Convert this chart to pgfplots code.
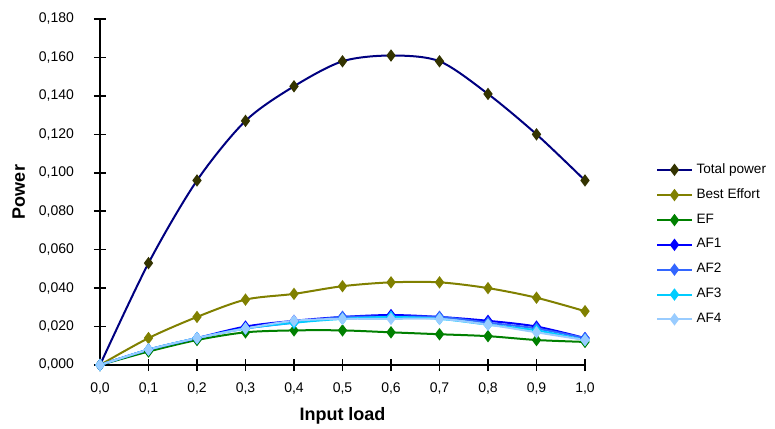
\documentclass[border=0pt]{standalone}
\usepackage{pgfplots}
\pgfplotsset{compat=1.18}
\usepackage{fontspec}
\setmainfont{Liberation Sans}
\definecolor{cTot}{RGB}{0,0,128}
\definecolor{cTotM}{RGB}{51,51,0}
\definecolor{cBE}{RGB}{128,128,0}
\definecolor{cEF}{RGB}{0,128,0}
\definecolor{cAFa}{RGB}{0,0,255}
\definecolor{cAFb}{RGB}{51,102,255}
\definecolor{cAFc}{RGB}{0,204,255}
\definecolor{cAFd}{RGB}{153,204,255}
\begin{document}
\begin{tikzpicture}
\useasboundingbox (0,0) rectangle (387.5pt,214pt);
\begin{axis}[
  at={(50pt,31.5pt)}, anchor=south west,
  scale only axis, width=242.5pt, height=173pt,
  xmin=0, xmax=1, ymin=0, ymax=0.18,
  axis lines*=left, axis line style={line width=0.8pt, -},
  xtick={0,0.1,...,1.0}, ytick={0,0.02,...,0.18},
  tick align=center, major tick length=6pt,
  tick style={line width=0.8pt, black},
  /pgf/number format/assume math mode=true,
  xticklabel style={yshift=-2.5pt, /pgf/number format/.cd, fixed, fixed zerofill, precision=1, use comma},
  yticklabel style={xshift=-6.5pt, /pgf/number format/.cd, fixed, fixed zerofill, precision=3, use comma},
  scaled y ticks=false,
  ticklabel style={font=\fontsize{7}{8}\selectfont},
  xlabel={\textbf{Input load}}, ylabel={\textbf{Power}},
  label style={font=\fontsize{9}{10}\selectfont},
  xlabel style={yshift=0.5pt},
  legend style={at={(1.134,0.607)}, anchor=north west, draw=none, fill=none,
    font=\fontsize{6.8}{7.5}\selectfont, row sep=2.2pt},
  legend cell align=left,
  every axis plot/.append style={line width=1pt, smooth, mark=diamond*, mark size=2.3pt},
  clip=false,
]
\addplot[color=cTot, mark options={fill=cTotM, draw=cTotM}] coordinates {(0,0) (0.1,0.053) (0.2,0.096) (0.3,0.127) (0.4,0.145) (0.5,0.158) (0.6,0.161) (0.7,0.158) (0.8,0.141) (0.9,0.120) (1.0,0.096)};
\addlegendentry{Total power}
\addplot[color=cBE] coordinates {(0,0) (0.1,0.014) (0.2,0.025) (0.3,0.034) (0.4,0.037) (0.5,0.041) (0.6,0.043) (0.7,0.043) (0.8,0.040) (0.9,0.035) (1.0,0.028)};
\addlegendentry{Best Effort}
\addplot[color=cEF] coordinates {(0,0) (0.1,0.007) (0.2,0.013) (0.3,0.017) (0.4,0.018) (0.5,0.018) (0.6,0.017) (0.7,0.016) (0.8,0.015) (0.9,0.013) (1.0,0.012)};
\addlegendentry{EF}
\addplot[color=cAFa] coordinates {(0,0) (0.1,0.008) (0.2,0.014) (0.3,0.020) (0.4,0.023) (0.5,0.025) (0.6,0.026) (0.7,0.025) (0.8,0.023) (0.9,0.020) (1.0,0.014)};
\addlegendentry{AF1}
\addplot[color=cAFb] coordinates {(0,0) (0.1,0.008) (0.2,0.014) (0.3,0.019) (0.4,0.022) (0.5,0.025) (0.6,0.025) (0.7,0.025) (0.8,0.022) (0.9,0.019) (1.0,0.014)};
\addlegendentry{AF2}
\addplot[color=cAFc] coordinates {(0,0) (0.1,0.008) (0.2,0.014) (0.3,0.019) (0.4,0.022) (0.5,0.024) (0.6,0.025) (0.7,0.024) (0.8,0.021) (0.9,0.018) (1.0,0.013)};
\addlegendentry{AF3}
\addplot[color=cAFd] coordinates {(0,0) (0.1,0.008) (0.2,0.014) (0.3,0.019) (0.4,0.023) (0.5,0.024) (0.6,0.024) (0.7,0.024) (0.8,0.021) (0.9,0.017) (1.0,0.013)};
\addlegendentry{AF4}
\end{axis}
\end{tikzpicture}
\end{document}
